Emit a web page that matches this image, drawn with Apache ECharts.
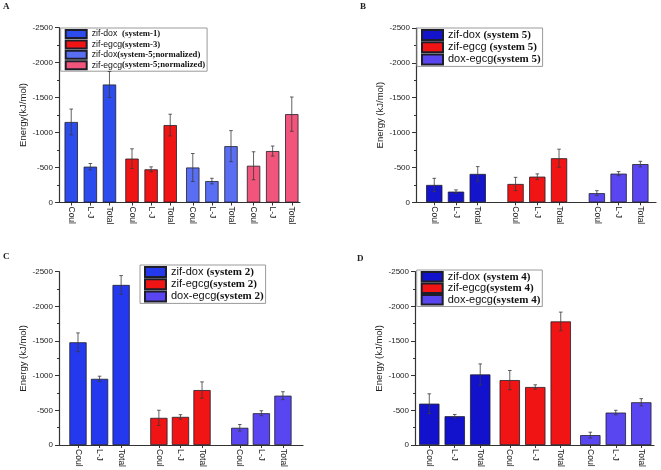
<!DOCTYPE html>
<html><head><meta charset="utf-8">
<script src="https://cdn.jsdelivr.net/npm/echarts@6/dist/echarts.min.js"></script>
<style>html,body{margin:0;padding:0;background:#fff}#c{width:661px;height:470px}</style>
</head><body><div id="c"></div>
<script>
// ---------- data ----------
const barLabels = ['Coul', 'L-J', 'Total'];
const yTicks = [0, 500, 1000, 1500, 2000, 2500];

// Panel A
const aNames = ['zif-dox  (system-1)', 'zif-egcg(system-3)', 'zif-dox(system-5;normalized)', 'zif-egcg(system-5;normalized)'];
const aDox1 = [1150, 512, 1686];   const aDox1Err = [185, 45, 185];
const aEgcg3 = [627, 474, 1106];   const aEgcg3Err = [140, 35, 155];
const aDox5n = [500, 306, 805];    const aDox5nErr = [200, 40, 222];
const aEgcg5n = [525, 735, 1262];  const aEgcg5nErr = [200, 72, 245];

// Panel B
const bNames = ['zif-dox (system 5)', 'zif-egcg (system 5)', 'dox-egcg(system 5)'];
const bDox = [249, 153, 407];   const bDoxErr = [95, 25, 105];
const bEgcg = [263, 368, 632];  const bEgcgErr = [95, 40, 130];
const bDe = [131, 411, 548];    const bDeErr = [36, 30, 40];

// Panel C
const cNames = ['zif-dox (system 2)', 'zif-egcg(system 2)', 'dox-egcg(system 2)'];
const cDox = [1482, 955, 2309]; const cDoxErr = [135, 38, 135];
const cEgcg = [392, 406, 793];  const cEgcgErr = [110, 32, 118];
const cDe = [249, 459, 712];    const cDeErr = [47, 36, 57];

// Panel D
const dNames = ['zif-dox (system 4)', 'zif-egcg(system 4)', 'dox-egcg(system 4)'];
const dDox = [597, 416, 1018];  const dDoxErr = [142, 25, 152];
const dEgcg = [937, 837, 1783]; const dEgcgErr = [138, 32, 134];
const dDe = [143, 468, 617];    const dDeErr = [42, 33, 52];

// ---------- layout / style ----------
const panels = [
  {letter:'A', lx:3, ly:2, grid:{left:59, top:27.5, width:241, height:175}, xMin:-0.64, xMax:11.97, period:3.18, barFrac:0.7,
   yName:'Energy(kJ/mol)', lg:{left:60.7, top:28, fs:8.7, ih:8, lh:10, gap:0.4},
   groups:[[aNames[0], aDox1, aDox1Err, '#2c4cee'], [aNames[1], aEgcg3, aEgcg3Err, '#f01414'],
           [aNames[2], aDox5n, aDox5nErr, '#5a6ef4'], [aNames[3], aEgcg5n, aEgcg5nErr, '#f2557c']]},
  {letter:'B', lx:360, ly:2, grid:{left:416, top:28, width:240, height:174.3}, xMin:-0.84, xMax:10.2, period:3.74, barFrac:0.75,
   yName:'Energy (kJ/mol)', lg:{left:417, top:28, fs:11, ih:10, lh:11, gap:0.2},
   groups:[[bNames[0], bDox, bDoxErr, '#1414cc'], [bNames[1], bEgcg, bEgcgErr, '#f01414'], [bNames[2], bDe, bDeErr, '#5a46f0']]},
  {letter:'C', lx:3, ly:252, grid:{left:59, top:271.7, width:244, height:174.3}, xMin:-0.88, xMax:10.43, period:3.75, barFrac:0.8,
   yName:'Energy (kJ/mol)', lg:{left:140, top:265, fs:11, ih:10, lh:11, gap:0.2},
   groups:[[cNames[0], cDox, cDoxErr, '#2438ee'], [cNames[1], cEgcg, cEgcgErr, '#f01414'], [cNames[2], cDe, cDeErr, '#5a46f0']]},
  {letter:'D', lx:357, ly:254, grid:{left:415, top:271.7, width:239, height:174.3}, xMin:-0.56, xMax:8.82, period:3.16, barFrac:0.8,
   yName:'Energy (kJ/mol)', lg:{left:416.7, top:270, fs:11, ih:9.5, lh:11.3, gap:0},
   groups:[[dNames[0], dDox, dDoxErr, '#1212cc'], [dNames[1], dEgcg, dEgcgErr, '#f01414'], [dNames[2], dDe, dDeErr, '#5a46f0']]}
];

const axisColor = '#333';
const textColor = '#222';

function renderErr(params, api) {
  const x = api.value(0), v = api.value(1), e = api.value(2);
  const t = api.coord([x, v + e]), b = api.coord([x, v - e]);
  const hw = 1.8, st = {stroke: '#3a3a3a', lineWidth: 0.8};
  return {type: 'group', children: [
    {type: 'line', shape: {x1: t[0], y1: t[1], x2: b[0], y2: b[1]}, style: st},
    {type: 'line', shape: {x1: t[0] - hw, y1: t[1], x2: t[0] + hw, y2: t[1]}, style: st},
    {type: 'line', shape: {x1: b[0] - hw, y1: b[1], x2: b[0] + hw, y2: b[1]}, style: st}
  ]};
}

const option = {animation: false, grid: [], xAxis: [], yAxis: [], series: [], legend: [], graphic: []};

panels.forEach((p, pi) => {
  option.grid.push(Object.assign({containLabel: false}, p.grid));
  const positions = [], labels = [];
  p.groups.forEach((g, gi) => barLabels.forEach((l, i) => { positions.push(gi * p.period + i); labels.push(l); }));
  const unitPx = p.grid.width / (p.xMax - p.xMin);
  option.xAxis.push({
    type: 'value', gridIndex: pi, min: p.xMin, max: p.xMax,
    splitLine: {show: false},
    axisLine: {show: true, onZero: false, lineStyle: {color: axisColor, width: 1.2}},
    axisTick: {show: true, customValues: positions, length: 3, lineStyle: {color: axisColor}},
    axisLabel: {customValues: positions, rotate: -90, margin: 4, fontSize: 8.5, color: textColor, fontFamily: 'Liberation Sans',
      formatter: v => { const k = positions.findIndex(q => Math.abs(q - v) < 1e-6); return k >= 0 ? labels[k] : ''; }}
  });
  option.yAxis.push({
    type: 'value', gridIndex: pi, min: yTicks[0], max: yTicks[yTicks.length - 1], interval: 500,
    name: p.yName, nameLocation: 'middle', nameGap: 25,
    nameTextStyle: {fontSize: 9.5, color: textColor, fontFamily: 'Liberation Sans'},
    splitLine: {show: false},
    axisLine: {show: true, onZero: false, lineStyle: {color: axisColor, width: 1.2}},
    axisTick: {show: true, length: 4, lineStyle: {color: axisColor}},
    minorTick: {show: true, splitNumber: 2, length: 2, lineStyle: {color: axisColor}},
    axisLabel: {fontSize: 8, margin: 6, color: textColor, fontFamily: 'Liberation Sans',
      formatter: v => v === 0 ? '0' : '-' + v}
  });
  const errData = [];
  p.groups.forEach((g, gi) => {
    const [name, vals, errs, color] = g;
    option.series.push({
      type: 'bar', name: name, xAxisIndex: pi, yAxisIndex: pi,
      barWidth: p.barFrac * unitPx, barGap: '-100%',
      itemStyle: {color: color, borderColor: '#1e1e2a', borderWidth: 0.8},
      data: vals.map((v, i) => [gi * p.period + i, v])
    });
    vals.forEach((v, i) => errData.push([gi * p.period + i, v, errs[i]]));
  });
  option.series.push({
    type: 'custom', name: 'err' + pi, xAxisIndex: pi, yAxisIndex: pi, z: 10,
    renderItem: renderErr, data: errData, silent: true
  });
  option.legend.push({
    orient: 'vertical', left: p.lg.left, top: p.lg.top,
    data: p.groups.map(g => g[0]),
    itemWidth: 21, itemHeight: p.lg.ih, itemGap: p.lg.gap,
    padding: [1, 2, 1, 4], borderColor: '#9a9a9a', borderWidth: 1, backgroundColor: '#fff',
    icon: 'rect', selectedMode: false,
    formatter: n => n.replace(/^([^(]*)(\(.*\))$/, '{a|$1}{b|$2}'),
    textStyle: {rich: {
      a: {fontFamily: 'Liberation Sans', fontSize: p.lg.fs, color: '#111', lineHeight: p.lg.lh},
      b: {fontFamily: 'Liberation Serif', fontWeight: 'bold', fontSize: p.lg.fs, color: '#111', lineHeight: p.lg.lh}
    }}
  });
  option.graphic.push({type: 'text', left: p.lx, top: p.ly,
    style: {text: p.letter, font: 'bold 9px "Liberation Serif"', fill: '#222'}});
});

const chart = echarts.init(document.getElementById('c'), null, {renderer: 'canvas'});
chart.setOption(option);
</script>
</body></html>
